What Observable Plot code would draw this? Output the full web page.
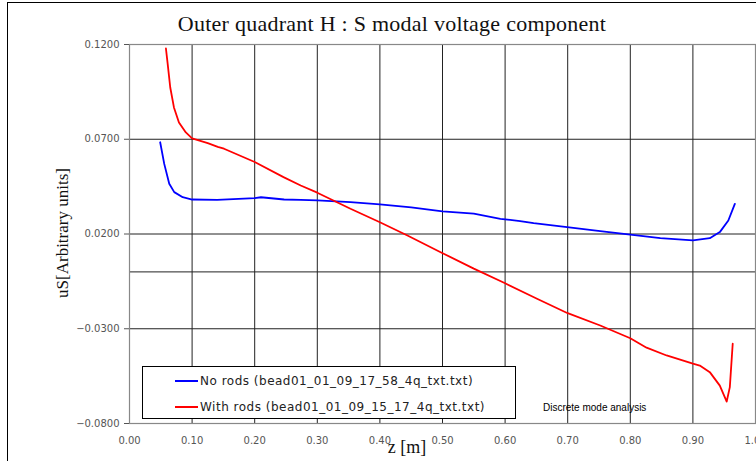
<!DOCTYPE html>
<html>
<head>
<meta charset="utf-8">
<script src="https://cdn.jsdelivr.net/npm/d3@7"></script>
<script src="https://cdn.jsdelivr.net/npm/@observablehq/plot@0.6"></script>
<style>
  html, body { margin: 0; padding: 0; background: #fff; overflow: hidden; }
  #wrap { position: relative; width: 756px; height: 461px; overflow: hidden; }
  #border { position: absolute; left: 6.5px; top: 1.5px; width: 800px; height: 520px; border: 1.5px solid #000; box-sizing: border-box; }
  #chart { position: absolute; left: 0; top: 0; }
  .title { position: absolute; left: 0; width: 784px; top: 11px; text-align: center; font-family: "Liberation Serif", "DejaVu Serif", serif; font-size: 22px; letter-spacing: 0.25px; color: #111; white-space: nowrap; }
  .ylab { position: absolute; left: 63px; top: 233px; transform: translate(-50%, -50%) rotate(-90deg); font-family: "Liberation Serif", serif; font-size: 17px; color: #111; white-space: nowrap; }
  .xlab { position: absolute; left: 407px; top: 437px; transform: translateX(-50%); font-family: "Liberation Serif", serif; font-size: 18px; color: #111; white-space: nowrap; }
  .legend { position: absolute; left: 142px; top: 366px; width: 374px; height: 53px; border: 1px solid #000; background: #fff; box-sizing: border-box; }
  .lrow { position: absolute; left: 32px; font-family: "DejaVu Sans", sans-serif; font-size: 12px; letter-spacing: 0.5px; color: #222; white-space: nowrap; display: flex; align-items: center; }
  .lrow .sw { display: inline-block; width: 23px; height: 1.5px; margin-right: 2px; }
  .note { position: absolute; left: 543px; top: 402px; font-family: "Liberation Sans", Arial, sans-serif; font-size: 10px; color: #000; white-space: nowrap; }
</style>
</head>
<body>
<div id="wrap">
  <div id="border"></div>
  <div id="chart"></div>
  <div class="title">Outer quadrant H : S modal voltage component</div>
  <div class="ylab">uS[Arbitrary units]</div>
  <div class="xlab">z [m]</div>
  <div class="legend" id="legend"></div>
  <div class="note">Discrete mode analysis</div>
</div>
<script>
// ---- data ----
const seriesNames = ["No rods (bead01_01_09_17_58_4q_txt.txt)", "With rods (bead01_01_09_15_17_4q_txt.txt)"];
const seriesColors = ["#0000ff", "#ff0000"];

const zNoRods = [0.049, 0.0555, 0.0635, 0.0715, 0.085, 0.100, 0.140, 0.200, 0.210, 0.247, 0.2735, 0.300, 0.353, 0.400, 0.450, 0.500, 0.550, 0.5925, 0.624, 0.6456, 0.699, 0.752, 0.800, 0.848, 0.900, 0.927, 0.943, 0.9566, 0.967];
const vNoRods = [0.0684, 0.0570, 0.0465, 0.0421, 0.0394, 0.0382, 0.0380, 0.0389, 0.0394, 0.0382, 0.0380, 0.0377, 0.0368, 0.0356, 0.0340, 0.0319, 0.0307, 0.0280, 0.0268, 0.0257, 0.0236, 0.0215, 0.0197, 0.0178, 0.0166, 0.0178, 0.0210, 0.0271, 0.0359];

const zWithRods = [0.0582, 0.0609, 0.0651, 0.071, 0.079, 0.090, 0.100, 0.125, 0.141, 0.151, 0.200, 0.246, 0.2735, 0.300, 0.353, 0.400, 0.444, 0.497, 0.550, 0.600, 0.651, 0.700, 0.752, 0.800, 0.826, 0.858, 0.900, 0.911, 0.927, 0.943, 0.954, 0.959, 0.9636];
const vWithRods = [0.1179, 0.1100, 0.0973, 0.0868, 0.0788, 0.0736, 0.0705, 0.0680, 0.0660, 0.0650, 0.0580, 0.0500, 0.0456, 0.0418, 0.0333, 0.0262, 0.0192, 0.0104, 0.0017, -0.0060, -0.0142, -0.0218, -0.0283, -0.0350, -0.0400, -0.0441, -0.0484, -0.0494, -0.0529, -0.0600, -0.0684, -0.0608, -0.0379];

const xTicks = [0.0, 0.1, 0.2, 0.3, 0.4, 0.5, 0.6, 0.7, 0.8, 0.9, 1.0];
const yTicks = [-0.08, -0.03, 0.02, 0.07, 0.12];

// ---- build tables ----
const noRods = zNoRods.map((z, i) => ({z, v: vNoRods[i]}));
const withRods = zWithRods.map((z, i) => ({z, v: vWithRods[i]}));

const chart = Plot.plot({
  width: 756,
  height: 461,
  marginLeft: 129,
  marginRight: 1,
  marginTop: 44,
  marginBottom: 38,
  style: {background: "transparent", overflow: "visible"},
  x: {domain: [0, 1]},
  y: {domain: [-0.08, 0.12]},
  marks: [
    Plot.ruleX(xTicks.slice(1, -1), {stroke: "#222", strokeWidth: 1}),
    Plot.ruleY(yTicks.slice(1, -1), {stroke: "#222", strokeWidth: 1}),
    Plot.ruleY([0], {stroke: "#222", strokeWidth: 1}),
    Plot.frame({stroke: "#888", strokeWidth: 1.2}),
    Plot.axisY({ticks: yTicks, tickFormat: d3.format(".4f"), tickSize: 5, tickPadding: 5, fontSize: 10, fontFamily: "DejaVu Sans", color: "#555", label: null}),
    Plot.axisX({ticks: xTicks, tickFormat: d3.format(".2f"), tickSize: 0, tickPadding: 13, fontSize: 10, fontFamily: "DejaVu Sans", color: "#555", label: null}),
    Plot.line(noRods, {x: "z", y: "v", stroke: seriesColors[0], strokeWidth: 1.8}),
    Plot.line(withRods, {x: "z", y: "v", stroke: seriesColors[1], strokeWidth: 1.8})
  ]
});
document.getElementById("chart").appendChild(chart);

// legend
const legend = document.getElementById("legend");
seriesNames.forEach((name, i) => {
  const row = document.createElement("div");
  row.className = "lrow";
  row.style.top = (i === 0 ? 7 : 33) + "px";
  const sw = document.createElement("span");
  sw.className = "sw";
  sw.style.background = seriesColors[i];
  row.appendChild(sw);
  const t = document.createElement("span");
  t.textContent = name;
  row.appendChild(t);
  legend.appendChild(row);
});
</script>
</body>
</html>
